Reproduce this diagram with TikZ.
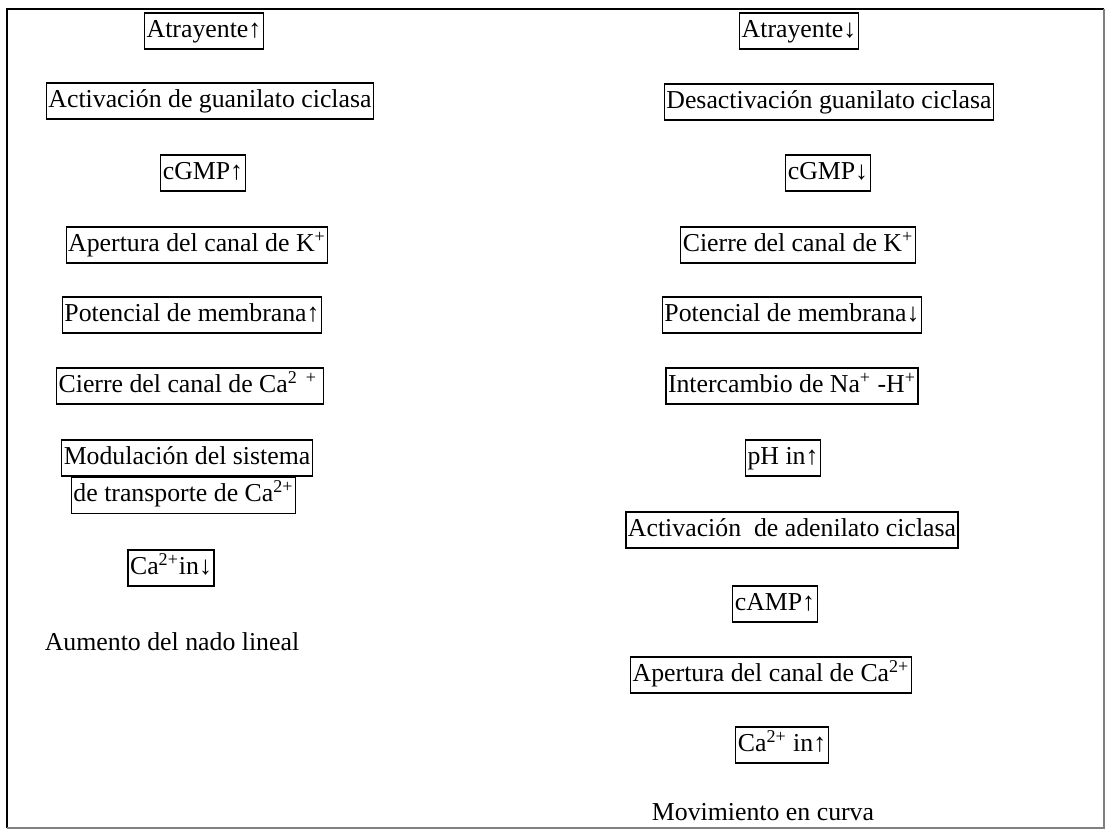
\documentclass[tikz,border=0pt]{standalone}
\usepackage{fontspec}
\setmainfont{Liberation Serif}
\usepackage{tikz}
\usetikzlibrary{positioning}

\tikzset{
  paso/.style={draw, line width=0.6pt, inner xsep=1pt, inner ysep=2.5pt,
    text height=9.6pt, text depth=3.4pt, font=\fontsize{12.9pt}{15pt}\selectfont},
  fin/.style={inner sep=0pt, anchor=base, font=\fontsize{12.9pt}{15pt}\selectfont}
}

\begin{document}
\begin{tikzpicture}[x=0.5pt, y=-0.5pt]
\useasboundingbox (0,0) rectangle (1106,830);

%frame
	\draw[black, line width=0.8pt] (1104,9) -- (7,9) -- (7,828);
	\draw[gray, line width=0.6pt] (7,828) -- (1104,828) -- (1104,9);

%left column
	\foreach \xy/\name/\txt in {{(204,31)/atrUp/{Atrayente↑}},
		{(210,101)/actGC/{Activación de guanilato ciclasa}},
		{(203,173)/cgmpUp/{cGMP↑}},
		{(197,245)/openK/{Apertura del canal de K\textsuperscript{+}}},
		{(192,315)/potUp/{Potencial de membrana↑}},
		{(190,386)/closeCa/{Cierre del canal de Ca\textsuperscript{2~~+}\,}},
		{(187,458)/modSis/{Modulación del sistema}},
		{(171,568)/caDown/{Ca\textsuperscript{2+}in↓}}} {
		\node[paso] (\name) at \xy {\txt};
	}
	\node[paso, below=0pt of modSis, xshift=-1.75pt] (modTrans) {de transporte de Ca\textsuperscript{2+}};
	\node[fin] (linear) at (172,650) {Aumento del nado lineal};

%right column
	\foreach \xy/\name/\txt in {{(799,31)/atrDown/{Atrayente↓}},
		{(829,102)/desGC/{Desactivación guanilato ciclasa}},
		{(828,173)/cgmpDown/{cGMP↓}},
		{(798,245)/closeK/{Cierre del canal de K\textsuperscript{+}}},
		{(792,315)/potDown/{Potencial de membrana↓}},
		{(792,386)/naH/{Intercambio de Na\textsuperscript{+} -H\textsuperscript{+}}},
		{(783,458)/phUp/{pH in↑}},
		{(792,530)/actAC/{Activación\ \ de adenilato ciclasa}},
		{(775,604)/campUp/{cAMP↑}},
		{(771,675)/openCa/{Apertura del canal de Ca\textsuperscript{2+}}},
		{(782,745)/caUp/{Ca\textsuperscript{2+} in↑}}} {
		\node[paso] (\name) at \xy {\txt};
	}
	\node[fin] (curve) at (763,820) {Movimiento en curva};

\end{tikzpicture}
\end{document}
